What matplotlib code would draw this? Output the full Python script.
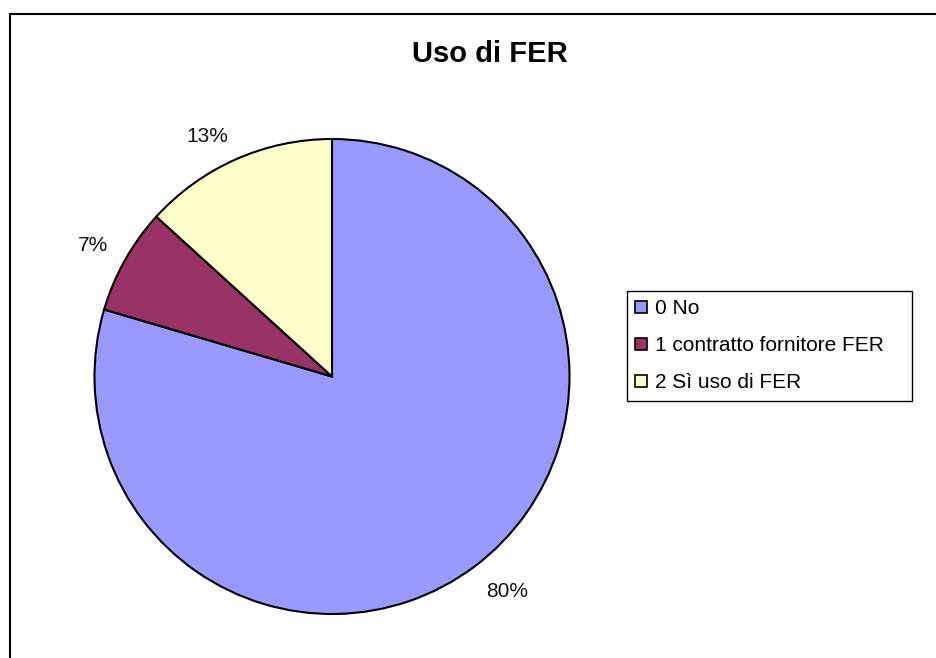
import matplotlib
matplotlib.use('Agg')
import numpy as np
import matplotlib.pyplot as plt
from matplotlib.lines import Line2D
from matplotlib.patches import Rectangle

plt.rcParams['font.family'] = ['Liberation Sans', 'DejaVu Sans']

# Dane
categories = ['0 No', '1 contratto fornitore FER', '2 Sì uso di FER']
values = [79.55, 7.2, 13.25]
colors = ['#9999FF', '#993366', '#FFFFCC']
title = 'Uso di FER'

W, H = 936, 658
fig = plt.figure(figsize=(W / 100, H / 100), dpi=100)

# pie area
cx, cy, r = 332, 376.5, 237.5
ax = fig.add_axes([(cx - r) / W, (H - cy - r) / H, 2 * r / W, 2 * r / H])
wedges, texts, autotexts = ax.pie(
    values, colors=colors, startangle=90, counterclock=False,
    autopct='%1.0f%%', pctdistance=1.1,
    wedgeprops=dict(edgecolor='black', linewidth=1.5),
    textprops=dict(fontsize=15, color='#111111'))

# labels anchored Excel-style: nearest corner of the text on the mid-angle
for w, t in zip(wedges, autotexts):
    ang = np.deg2rad((w.theta1 + w.theta2) / 2)
    x, y = 1.08 * np.cos(ang), 1.08 * np.sin(ang)
    t.set_position((x, y))
    t.set_ha('left' if x >= 0 else 'right')
    t.set_va('baseline' if y >= 0 else 'top')

ax.set_xlim(-1, 1)
ax.set_ylim(-1, 1)
ax.set_aspect('equal')
ax.axis('off')

fig.text(490 / W, 1 - 54 / H, title, ha='center', va='center',
         fontsize=21, fontweight='bold')

leg = fig.legend(wedges, categories, loc='upper left',
                 bbox_to_anchor=(627 / W, 1 - 291 / H), borderaxespad=0,
                 fontsize=15, frameon=False,
                 handlelength=0.55, handleheight=0.55, handletextpad=0.4,
                 labelspacing=0.86, borderpad=0.4)
for h in leg.legend_handles:
    h.set_edgecolor('black')
    h.set_linewidth(1.2)

# legend frame with the wider right margin of the source
fig.canvas.draw()
bb = leg.get_window_extent().transformed(fig.transFigure.inverted())
fig.add_artist(Rectangle((bb.x0, bb.y0), bb.width + 20 / W, bb.height,
                         transform=fig.transFigure, fill=False,
                         edgecolor='black', linewidth=1.0))

# chart border (cut at the right and bottom like in the source)
x0 = 9.5 / W
y0 = 1 - 13.5 / H
fig.add_artist(Line2D([x0, x0], [0, y0], transform=fig.transFigure, color='black', lw=1.5))
fig.add_artist(Line2D([x0, 1], [y0, y0], transform=fig.transFigure, color='black', lw=1.5))

fig.savefig('out.png', dpi=100)
